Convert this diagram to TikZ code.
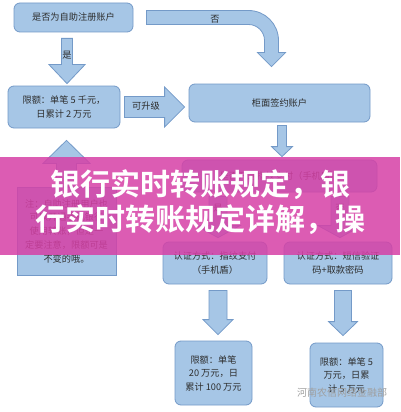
\documentclass[tikz,border=0pt]{standalone}
\usepackage{fontspec}
\setmainfont{Noto Sans CJK SC}[BoldFont={Noto Sans CJK SC Bold}]
\usetikzlibrary{calc}

\definecolor{boxfill}{RGB}{166,198,230}
\definecolor{boxline}{RGB}{116,154,200}
\definecolor{boxtext}{RGB}{45,45,45}
\definecolor{bannerpink}{RGB}{214,64,166}

% vertical block arrow: from, to, axis x, shaft half width, head half width, head length
\newcommand{\blkv}[6]{%
  \draw[blkarrow] let \p1=#1, \p2=#2, \n1={sign(\y2-\y1)*#6} in
    ({#3pt-#4pt},\y1) -- ({#3pt-#4pt},{\y2-\n1*1pt}) -- ({#3pt-#5pt},{\y2-\n1*1pt})
    -- (#3pt,\y2) -- ({#3pt+#5pt},{\y2-\n1*1pt}) -- ({#3pt+#4pt},{\y2-\n1*1pt})
    -- ({#3pt+#4pt},\y1) -- cycle;}

\begin{document}
\begin{tikzpicture}[x=1pt, y=-1pt, font=\fontsize{9.2}{13.5}\selectfont,
  box/.style={draw=boxline, fill=boxfill, rounded corners=6pt, align=center,
    inner sep=2pt, line width=0.8pt, text=boxtext},
  blkarrow/.style={draw=boxline, fill=boxfill, line width=0.8pt, line join=miter},
  lbl/.style={inner sep=1pt, text=boxtext}]
  \useasboundingbox (0,0) rectangle (400,412);
  \fill[white] (0,0) rectangle (400,412);

  % boxes
  \node[box, minimum width=119, minimum height=29] (zizhu) at (73.5,17.5) {是否为自助注册账户};
  \node[box, minimum width=112, minimum height=42] (xiane1) at (64,107) {限额：单笔 5 千元，\\日累计 2 万元};
  \node[box, minimum width=181, minimum height=38] (guimian) at (279.5,103) {柜面签约账户};
  \node[box, minimum width=195, minimum height=32] (zhiwen) at (279.5,176) {是否开通指纹支付（手机盾）};
  \node[box, rounded corners=0pt, minimum width=99, minimum height=88, font=\fontsize{9.2}{13.75}\selectfont] (zhu) at (66.5,231)
    {注：自助注册用户也\\可以开通手机银行\\使用转账，但是一\\定要注意，限额可是\\不变的哦。};
  \node[box, minimum width=104, minimum height=42] (renzheng1) at (215,263) {认证方式：指纹支付\\（手机盾）};
  \node[box, minimum width=108, minimum height=42] (renzheng2) at (338,263) {认证方式：短信验证\\码+取款密码};
  \node[box, minimum width=77, minimum height=64] (xiane2) at (213.5,373) {限额：单笔\\20 万元，日\\累计 100 万元};
  \node[box, minimum width=73, minimum height=64] (xiane3) at (346.5,375) {限额：单笔 5\\万元，日累\\计 5 万元};

  % block arrows
  \blkv{([yshift=-6pt]zizhu.south)}{([yshift=2pt]xiane1.north)}{67}{5.5}{18}{19}
  \node[lbl] (lblshi) at (67,55) {是};

  \draw[blkarrow] let \p1=([xshift=13pt]zizhu.east), \p2=([xshift=-8pt,yshift=17pt]guimian.north) in
    (\x1,\y1+7pt) -- (\x2-23pt,\y1+7pt) arc[start angle=90, end angle=0, radius=30pt]
    -- (\x2+7pt,\y2+14pt) -- (\x2+14pt,\y2+14pt) -- (\x2,\y2) -- (\x2-14pt,\y2+14pt)
    -- (\x2-7pt,\y2+14pt) -- (\x2-7pt,\y1-23pt) arc[start angle=0, end angle=90, radius=16pt]
    -- (\x1,\y1-7pt) -- cycle;
  \node[lbl] (lblfou) at (215,19) {否};

  \draw[blkarrow] let \p1=([xshift=4pt]xiane1.east), \p2=([xshift=-4pt]guimian.west) in
    (\x1,\y1+10.5pt) -- (\x2-20pt,\y1+10.5pt) -- (\x2-20pt,\y1+20pt) -- (\x2,\y1)
    -- (\x2-20pt,\y1-20pt) -- (\x2-20pt,\y1-10.5pt) -- (\x1,\y1-10.5pt) -- cycle;
  \node[lbl] (lblsheng) at (146,106) {可升级};

  \blkv{([yshift=-3pt]guimian.south)}{([yshift=3pt]zhiwen.north)}{282}{4.5}{10.5}{10}
  \blkv{(zhu.north)}{([yshift=-12pt]xiane1.south)}{66.5}{10}{23.5}{23}

  \blkv{([yshift=-4pt]zhiwen.south)}{([yshift=4pt]renzheng1.north)}{218}{9}{22}{12}
  \node[lbl] (lblshi2) at (218,208) {是};
  \blkv{([yshift=-4pt]zhiwen.south)}{([yshift=4pt]renzheng2.north)}{340}{9}{22}{12}
  \node[lbl] (lblfou2) at (340,208) {否};

  \blkv{([yshift=-6pt]renzheng1.south)}{([yshift=6pt]xiane2.north)}{218}{9}{15}{15}
  \blkv{([yshift=-6pt]renzheng2.south)}{([yshift=7pt]xiane3.north)}{343}{8.5}{14.5}{14}

  % title banner
  \fill[bannerpink, opacity=0.85] (0,157) rectangle (400,255);
  \node[font=\fontsize{30}{35}\selectfont\bfseries, text=white, align=center] (title) at (200,202.5)
    {银行实时转账规定，银\\行实时转账规定详解，操};

  % watermark
  \node[font=\fontsize{10}{12}\selectfont, text=gray!75, inner sep=0pt] (mark) at (342,393) {河南农信网络金融部};
\end{tikzpicture}
\end{document}
